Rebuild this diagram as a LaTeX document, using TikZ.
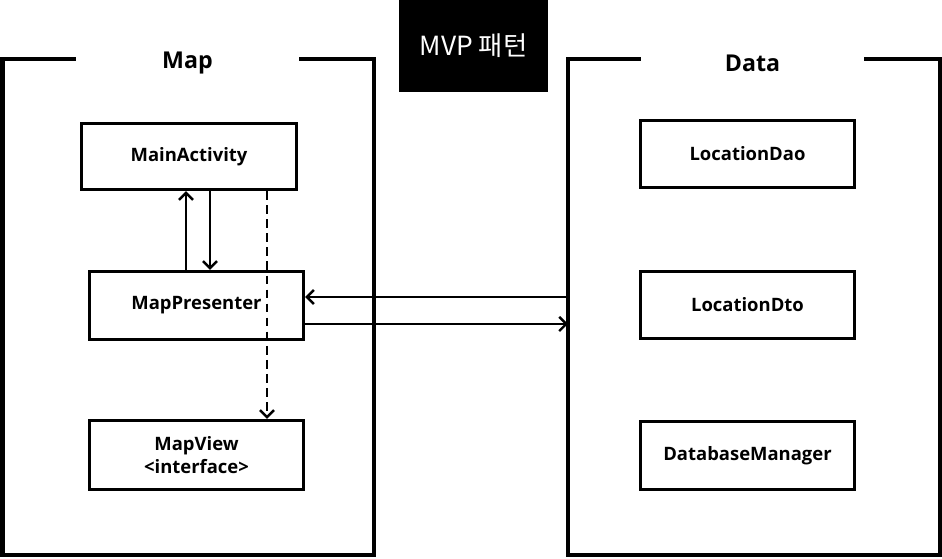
\documentclass[tikz,border=0pt]{standalone}
\usepackage{fontspec}
\setmainfont{Open Sans}
\newfontfamily\kofont{Noto Sans CJK KR}
\usepackage{tikz}
\usetikzlibrary{arrows.meta, positioning, calc}

\begin{document}
\begin{tikzpicture}[
        cls/.style={rectangle,draw=black,line width=1.9pt,
                    font=\bfseries\fontsize{10.5}{13}\selectfont,align=center,
                    minimum width=4.28cm,minimum height=1.36cm},
        ttl/.style={font=\bfseries\fontsize{13.2}{15}\selectfont,minimum width=4.46cm,inner sep=0pt},
        frm/.style={line width=2.4pt},
        arr/.style={-{Straight Barb[length=4pt,width=8pt]},line width=1.4pt},
        dsh/.style={arr,dash pattern=on 5pt off 3pt}
      ]
        \useasboundingbox (0,0) rectangle (18.84,11.18);
        \coordinate (top) at (0,10.0);
        % Title
        \node[fill=black,text=white,font=\kofont\fontsize{15}{17}\selectfont,
              minimum width=2.98cm,minimum height=1.84cm] (mvp) at (9.47,10.26) {MVP 패턴};
        % Map side
        \node[ttl] (maptitle) at (3.75,9.92) {Map};
        \draw[frm] (maptitle.west |- top) -- (0.05,10.0) -- (0.05,0.08) -- (7.48,0.08)
                   -- (7.48,10.0) -- (maptitle.east |- top);
        \node[cls,minimum width=4.3cm,minimum height=1.32cm] (main) at (3.78,8.05) {MainActivity};
        \node[cls] (presenter) at (3.93,5.07) {MapPresenter};
        \node[cls,minimum height=1.38cm] (view) at (3.93,2.08) {MapView\\<interface>};
        % Data side
        \node[ttl] (datatitle) at (15.05,9.92) {Data};
        \draw[frm] (datatitle.west |- top) -- (11.36,10.0) -- (11.36,0.08) -- (18.80,0.08)
                   -- (18.80,10.0) -- (datatitle.east |- top);
        \node[cls,minimum height=1.34cm] (dao) at (14.95,8.10) {LocationDao};
        \node[cls,minimum height=1.34cm] (dto) at (14.95,5.08) {LocationDto};
        \node[cls,minimum height=1.36cm] (dbm) at (14.95,2.07) {DatabaseManager};
        % Arrows
        \coordinate (upx) at (3.72,0);
        \coordinate (downx) at (4.20,0);
        \coordinate (dashx) at (5.34,0);
        \coordinate (din) at (11.36,5.24);
        \coordinate (dout) at (11.36,4.70);
        \draw[arr] (presenter.north -| upx) -- (main.south -| upx);
        \draw[arr] (main.south -| downx) -- (presenter.north -| downx);
        \draw[dsh] (main.south -| dashx) -- (view.north -| dashx);
        \draw[arr] (din) -- (presenter.east |- din);
        \draw[arr] (presenter.east |- dout) -- (dout);
      \end{tikzpicture}
\end{document}
